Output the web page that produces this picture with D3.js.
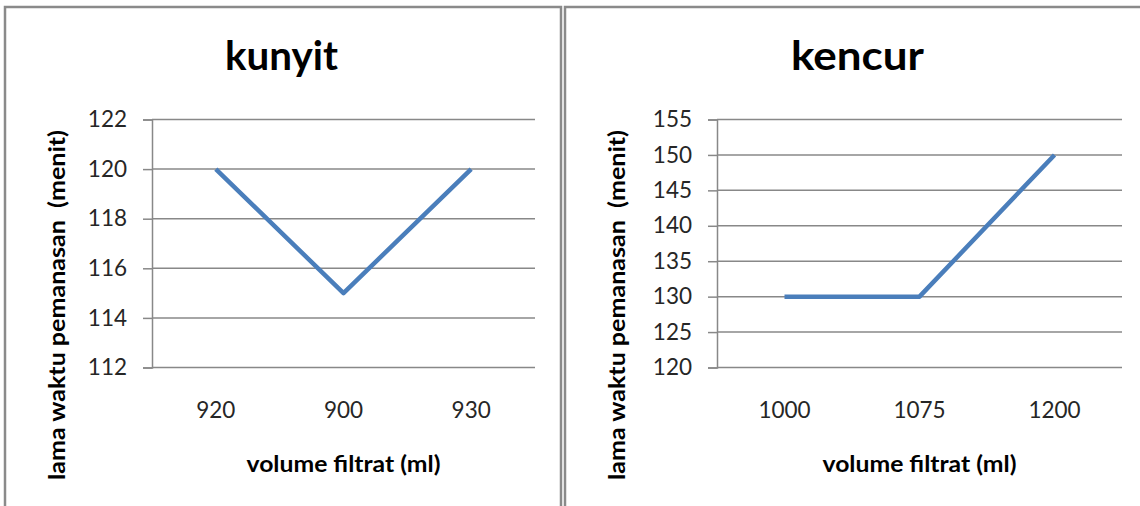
<!DOCTYPE html>
<html>
<head>
<meta charset="utf-8">
<script src="https://cdn.jsdelivr.net/npm/d3@7"></script>
<style>
  html, body { margin: 0; padding: 0; background: #fff; }
  svg { display: block; }
  text { font-family: Lato, "Open Sans", sans-serif; }
</style>
</head>
<body>
<svg id="chart" width="1140" height="506"></svg>
<script>
// ---- data ----
const kunyitCategories = ["920", "900", "930"];
const kunyitValues = [120, 115, 120];
const kunyitTicks = [112, 114, 116, 118, 120, 122];

const kencurCategories = ["1000", "1075", "1200"];
const kencurValues = [130, 130, 150];
const kencurTicks = [120, 125, 130, 135, 140, 145, 150, 155];

const titles = ["kunyit", "kencur"];
const xTitle = "volume filtrat (ml)";
const yTitle = "lama waktu pemanasan  (menit)";

// ---- layout ----
const svg = d3.select("#chart");
const panels = [
  { title: titles[0], cats: kunyitCategories, vals: kunyitValues, ticks: kunyitTicks,
    box: [5, 7, 556, 520], plot: [152, 535, 119.5, 367.5], ytx: 57, tx: 281.5, tlen: 113 },
  { title: titles[1], cats: kencurCategories, vals: kencurValues, ticks: kencurTicks,
    box: [565, 7, 600, 520], plot: [717, 1122, 119.5, 367.5], ytx: 617, tx: 857.5, tlen: 133 }
];

panels.forEach(p => {
  const [bx, by, bw, bh] = p.box;
  const [x0, x1, yTop, yBot] = p.plot;
  const g = svg.append("g");

  // border
  g.append("rect").attr("x", bx).attr("y", by).attr("width", bw).attr("height", bh)
    .attr("fill", "#fff").attr("stroke", "#8a8a8a").attr("stroke-width", 2.5);

  const x = d3.scaleBand().domain(p.cats).range([x0, x1]);
  const y = d3.scaleLinear().domain(d3.extent(p.ticks)).range([yBot, yTop]);

  // y axis with gridlines
  const yAxis = d3.axisLeft(y).tickValues(p.ticks).tickSize(9).tickPadding(16)
    .tickFormat(d3.format("d"));
  const ya = g.append("g").attr("transform", `translate(${x0},0)`).call(yAxis);
  ya.select(".domain").attr("stroke", "#888").attr("stroke-width", 1.5);
  ya.selectAll(".tick line").attr("stroke", "#888").attr("stroke-width", 1.5);
  ya.selectAll(".tick text").attr("font-size", 22.5).attr("fill", "#262626")
    .attr("font-family", "Lato, sans-serif");

  // horizontal gridlines
  g.append("g").selectAll("line").data(p.ticks).join("line")
    .attr("x1", x0).attr("x2", x1)
    .attr("y1", d => y(d)).attr("y2", d => y(d))
    .attr("stroke", "#888").attr("stroke-width", 1.5);

  // x axis labels
  const xAxis = d3.axisBottom(x).tickSize(0).tickPadding(34.5);
  const xa = g.append("g").attr("transform", `translate(0,${yBot})`).call(xAxis);
  xa.select(".domain").remove();
  xa.selectAll(".tick text").attr("font-size", 22.5).attr("fill", "#262626")
    .attr("font-family", "Lato, sans-serif");

  // line
  const line = d3.line().x((d, i) => x(p.cats[i]) + x.bandwidth() / 2).y(d => y(d));
  g.append("path").datum(p.vals).attr("d", line)
    .attr("fill", "none").attr("stroke", "#4a7ebb").attr("stroke-width", 4.5)
    .attr("stroke-linejoin", "round").attr("stroke-linecap", "butt");

  // title
  g.append("text").attr("x", p.tx).attr("y", 70)
    .attr("text-anchor", "middle").attr("font-size", 40).attr("font-weight", "bold")
    .attr("textLength", p.tlen).attr("lengthAdjust", "spacingAndGlyphs")
    .attr("fill", "#000").text(p.title);

  // x title
  g.append("text").attr("x", (x0 + x1) / 2).attr("y", 472)
    .attr("text-anchor", "middle").attr("font-size", 22).attr("font-weight", "bold")
    .attr("textLength", 194).attr("lengthAdjust", "spacingAndGlyphs")
    .attr("fill", "#000").text(xTitle);

  // y title
  g.append("text").attr("transform", `translate(${p.ytx + 8},305) rotate(-90)`)
    .attr("text-anchor", "middle").attr("font-size", 22).attr("font-weight", "bold")
    .attr("textLength", 350).attr("lengthAdjust", "spacingAndGlyphs")
    .attr("fill", "#000").attr("xml:space", "preserve").style("white-space", "pre")
    .text(yTitle);
});
</script>
</body>
</html>
